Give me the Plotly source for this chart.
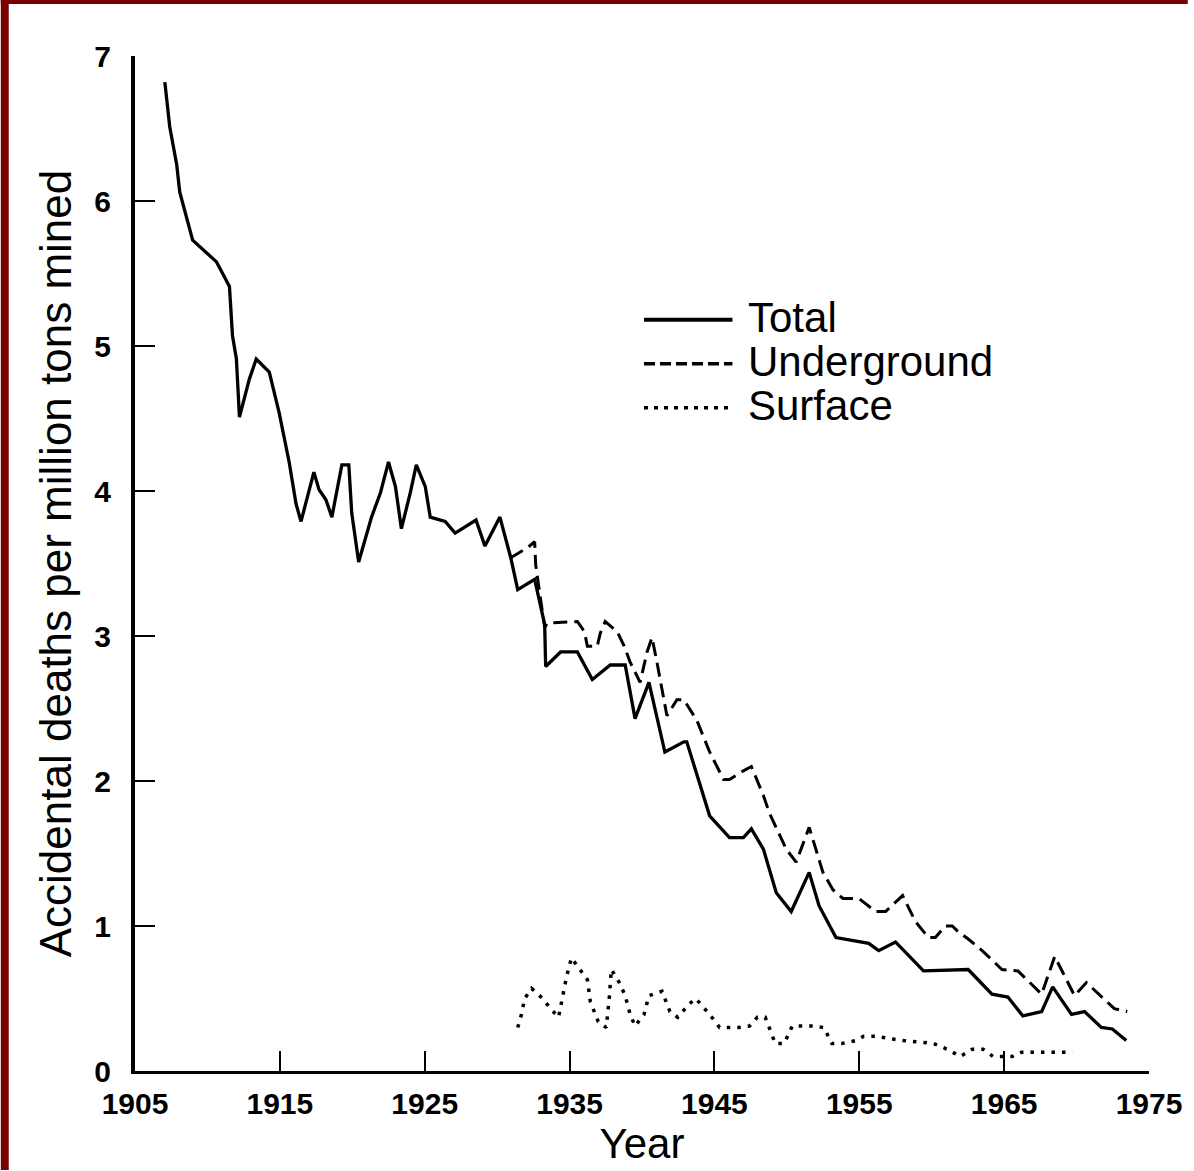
# =========================================
# Coal mine fatality rates, 1907-1974
# =========================================

import plotly.graph_objects as go


# =========================================
# Data
# =========================================

total_years = [
    1907.06, 1907.40, 1907.88, 1908.09, 1908.98, 1910.63, 1911.52, 1911.73,
    1912.00, 1912.21, 1912.89, 1913.37, 1914.27, 1914.95, 1915.64, 1916.12,
    1916.46, 1917.35, 1917.70, 1918.18, 1918.59, 1919.28, 1919.76, 1919.96,
    1920.44, 1921.33, 1921.95, 1922.50, 1922.98, 1923.39, 1924.01, 1924.42,
    1925.04, 1925.38, 1926.41, 1927.10, 1928.54, 1929.16, 1930.19, 1930.94,
    1931.42, 1932.59, 1933.28, 1933.35, 1934.38, 1935.54, 1936.57, 1937.81,
    1938.84, 1939.52, 1940.48, 1941.58, 1942.89, 1943.09, 1944.67, 1946.04,
    1947.00, 1947.55, 1948.38, 1949.27, 1950.30, 1951.54, 1952.22, 1953.39,
    1955.65, 1956.34, 1957.50, 1959.43, 1962.52, 1964.16, 1965.26, 1966.29,
    1967.59, 1968.35, 1969.65, 1970.55, 1971.71, 1972.47, 1973.43,
]
total_rate = [
    6.82, 6.51, 6.25, 6.06, 5.73, 5.58, 5.41, 5.07,
    4.91, 4.51, 4.77, 4.91, 4.82, 4.54, 4.20, 3.91,
    3.79, 4.13, 4.01, 3.94, 3.82, 4.18, 4.18, 3.85,
    3.51, 3.82, 3.99, 4.20, 4.03, 3.74, 3.99, 4.18,
    4.03, 3.82, 3.79, 3.71, 3.80, 3.62, 3.82, 3.54,
    3.32, 3.39, 3.08, 2.79, 2.89, 2.89, 2.70, 2.80,
    2.80, 2.43, 2.68, 2.20, 2.27, 2.27, 1.76, 1.61,
    1.61, 1.67, 1.53, 1.23, 1.10, 1.37, 1.14, 0.92,
    0.88, 0.83, 0.89, 0.69, 0.70, 0.53, 0.51, 0.38,
    0.41, 0.58, 0.39, 0.41, 0.30, 0.29, 0.21,
]

underground_years = [
    1930.94, 1932.11, 1932.59, 1932.66, 1933.28, 1933.48, 1935.54, 1936.02,
    1936.23, 1936.91, 1937.12, 1937.46, 1938.29, 1938.77, 1939.18, 1939.87,
    1940.35, 1940.69, 1941.03, 1941.17, 1941.72, 1942.41, 1942.89, 1943.78,
    1944.67, 1945.63, 1946.04, 1947.00, 1947.55, 1948.38, 1948.79, 1949.96,
    1950.64, 1951.54, 1952.49, 1953.18, 1953.87, 1954.97, 1956.13, 1956.82,
    1957.99, 1958.88, 1959.77, 1960.25, 1960.94, 1961.42, 1961.83, 1962.52,
    1963.48, 1964.85, 1965.95, 1967.59, 1968.49, 1969.86, 1970.68, 1972.61,
    1973.50,
]
underground_rate = [
    3.54, 3.61, 3.65, 3.49, 3.06, 3.09, 3.10, 3.03,
    2.93, 2.93, 3.02, 3.10, 3.03, 2.93, 2.82, 2.68,
    2.89, 2.99, 2.82, 2.75, 2.45, 2.56, 2.56, 2.42,
    2.20, 2.01, 2.01, 2.07, 2.10, 1.90, 1.78, 1.53,
    1.44, 1.68, 1.37, 1.25, 1.19, 1.19, 1.10, 1.10,
    1.21, 1.03, 0.92, 0.92, 1.00, 1.00, 0.96, 0.91,
    0.83, 0.70, 0.69, 0.53, 0.79, 0.52, 0.61, 0.43,
    0.41,
]

surface_years = [
    1931.42, 1931.63, 1931.90, 1932.38, 1933.14, 1933.69, 1934.24, 1934.38,
    1934.79, 1935.13, 1935.68, 1936.23, 1936.43, 1936.98, 1937.53, 1937.74,
    1937.88, 1938.43, 1938.84, 1939.18, 1939.52, 1940.14, 1940.48, 1941.38,
    1941.93, 1942.47, 1943.23, 1943.71, 1944.67, 1945.36, 1946.66, 1947.42,
    1947.96, 1948.51, 1949.20, 1949.82, 1950.37, 1951.81, 1952.56, 1953.11,
    1953.80, 1954.76, 1955.31, 1956.13, 1957.30, 1958.05, 1960.11, 1961.07,
    1961.97, 1962.79, 1963.55, 1964.23, 1965.54, 1966.22, 1969.72,
]
surface_rate = [
    0.30, 0.37, 0.50, 0.57, 0.50, 0.43, 0.37, 0.44,
    0.65, 0.78, 0.70, 0.63, 0.48, 0.34, 0.30, 0.50,
    0.70, 0.61, 0.52, 0.39, 0.31, 0.39, 0.52, 0.55,
    0.41, 0.37, 0.46, 0.50, 0.39, 0.30, 0.30, 0.31,
    0.37, 0.37, 0.19, 0.19, 0.31, 0.31, 0.30, 0.19,
    0.19, 0.21, 0.24, 0.24, 0.22, 0.21, 0.19, 0.15,
    0.10, 0.15, 0.15, 0.10, 0.10, 0.13, 0.13,
]

year_ticks = [1905, 1915, 1925, 1935, 1945, 1955, 1965, 1975]
rate_ticks = [0, 1, 2, 3, 4, 5, 6, 7]

legend_names = ["Total", "Underground", "Surface"]
legend_dash = ["solid", "11px,5px", "4px,6px"]


# =========================================
# Figure geometry (pixels)
# =========================================

W, H = 1194, 1171
L, R, T, B = 135, 39, 56, 99
PW, PH = W - L - R, H - T - B

FONT = "Liberation Sans, Arial, Helvetica, sans-serif"
BORDER = "#7a0000"


def px(x):
    return (x - L) / PW


def py(y):
    return (H - B - y) / PH


fig = go.Figure()


# =========================================
# Lines
# =========================================

fig.add_trace(

    go.Scatter(

        x=underground_years,
        y=underground_rate,

        mode="lines",

        line=dict(color="black", width=3, dash="14px,7px"),

        name="Underground"

    )

)

fig.add_trace(

    go.Scatter(

        x=surface_years,
        y=surface_rate,

        mode="lines",

        line=dict(color="black", width=3.5, dash="3.5px,7px"),

        name="Surface"

    )

)

fig.add_trace(

    go.Scatter(

        x=total_years,
        y=total_rate,

        mode="lines",

        line=dict(color="black", width=3.3),

        name="Total"

    )

)


# =========================================
# Hand-drawn legend + page border
# =========================================

shapes = []
annotations = []

for i, (name, dash) in enumerate(zip(legend_names, legend_dash)):

    row_y = 320 + i * 44

    shapes.append(dict(
        type="line", xref="paper", yref="paper",
        x0=px(647), x1=px(736), y0=py(row_y), y1=py(row_y),
        line=dict(color="black", width=4 if i == 0 else 3.5, dash=dash)
    ))

    annotations.append(dict(
        xref="paper", yref="paper",
        x=px(750), y=py(row_y - 2),
        xanchor="left", yanchor="middle",
        text=name, showarrow=False,
        font=dict(family=FONT, size=42, color="black")
    ))

# dark red frame on the left and top edges
shapes.append(dict(
    type="rect", xref="paper", yref="paper", layer="above",
    x0=px(0), x1=px(8), y0=py(H), y1=py(0),
    fillcolor=BORDER, line=dict(width=0)
))
shapes.append(dict(
    type="rect", xref="paper", yref="paper", layer="above",
    x0=px(0), x1=px(W), y0=py(4), y1=py(0),
    fillcolor=BORDER, line=dict(width=0)
))


# =========================================
# Layout
# =========================================

fig.update_layout(

    width=W,
    height=H,

    margin=dict(l=L, r=R, t=T, b=B, pad=0),

    paper_bgcolor="white",
    plot_bgcolor="white",

    showlegend=False,

    font=dict(family=FONT, color="black"),

    shapes=shapes,
    annotations=annotations,

    xaxis=dict(
        range=[1905, 1975],
        tickvals=year_ticks,
        ticks="inside", ticklen=20, tickwidth=2, tickcolor="black",
        showline=True, linewidth=3, linecolor="black",
        showgrid=False, zeroline=False,
        tickfont=dict(family=FONT, size=30, color="black", weight="bold"),
        ticklabelstandoff=4,
        title=dict(text="Year", font=dict(family=FONT, size=42), standoff=10)
    ),

    yaxis=dict(
        range=[0, 7],
        tickvals=rate_ticks,
        ticks="inside", ticklen=20, tickwidth=2, tickcolor="black",
        showline=True, linewidth=4, linecolor="black",
        showgrid=False, zeroline=False,
        tickfont=dict(family=FONT, size=30, color="black", weight="bold"),
        ticklabelstandoff=14,
        title=dict(text="Accidental deaths per million tons mined",
                   font=dict(family=FONT, size=44), standoff=10)
    )

)


# the page body has an 8px default margin; drop it so the figure sits at 0,0
fig.write_html(
    "out.html",
    config={"displayModeBar": False},
    post_script="document.body.style.margin='0';"
)
